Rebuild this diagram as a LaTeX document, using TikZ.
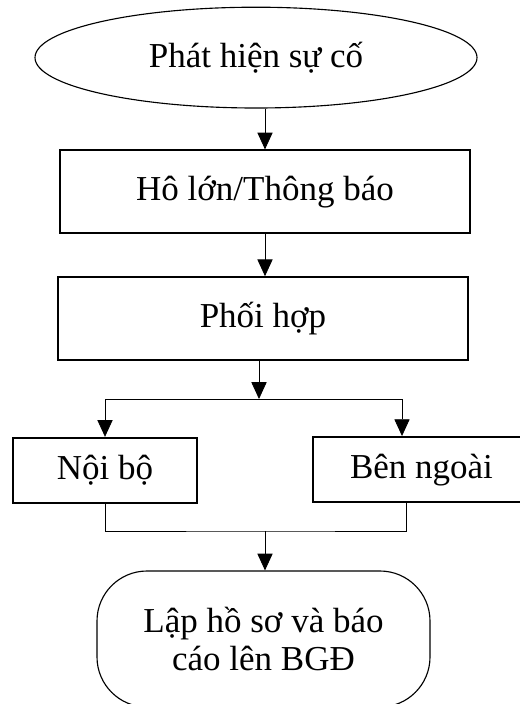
\documentclass[tikz,border=0pt]{standalone}
\usepackage{fontspec}
\setmainfont{Liberation Serif}
\usetikzlibrary{shapes.geometric,arrows.meta}

\begin{document}
\begin{tikzpicture}[>={Triangle[length=0.42cm,width=0.38cm]},line width=0.6pt,
	font=\fontsize{24.9pt}{26.6pt}\selectfont,
	box/.style={draw,line width=1pt,minimum width=10.25cm,minimum height=2.075cm},
	subbox/.style={draw,line width=1.5pt,minimum height=1.625cm}]
				\useasboundingbox (0,0) rectangle (13,-17.6);
				\node[draw,ellipse,line width=0.8pt,minimum width=11.05cm,minimum height=2.52cm] (detect) at (6.4,-1.44) {Phát hiện sự cố};
				\node[box] (notify) at (6.625,-4.79) {Hô lớn/Thông báo};
				\node[box] (coord) at (6.575,-7.96) {Phối hợp};
				\node[subbox,minimum width=4.6cm] (internal) at (2.625,-11.76) {Nội bộ};
				\node[subbox,minimum width=5.425cm] (external) at (10.5375,-11.74) {Bên ngoài};
				\node[draw,rounded corners=1.25cm,line width=0.8pt,minimum width=8.325cm,minimum height=3.4cm,align=center] (report) at (6.5875,-15.975) {Lập hồ sơ và báo\\cáo lên BGĐ};
				% nhanh re va nhanh gop
				\coordinate (fork) at (6.475,-9.975);
				\coordinate (rin) at (10.05,-9.975);
				\coordinate (join) at (6.625,-13.275);
				\coordinate (rout) at (10.15,-13.275);
				\draw[->] (detect.south -| notify.north)--(notify.north);
				\draw[->] (notify.south)--(notify.south |- coord.north);
				\draw[->] (coord.south -| fork)--(fork);
				\draw[->] (fork) -| (internal.north);
				\draw[->] (fork) -| (rin |- external.north);
				\draw (internal.south) |- (join) -| (rout |- external.south);
				\draw[->] (join)--(join |- report.north);
			\end{tikzpicture}
\end{document}
